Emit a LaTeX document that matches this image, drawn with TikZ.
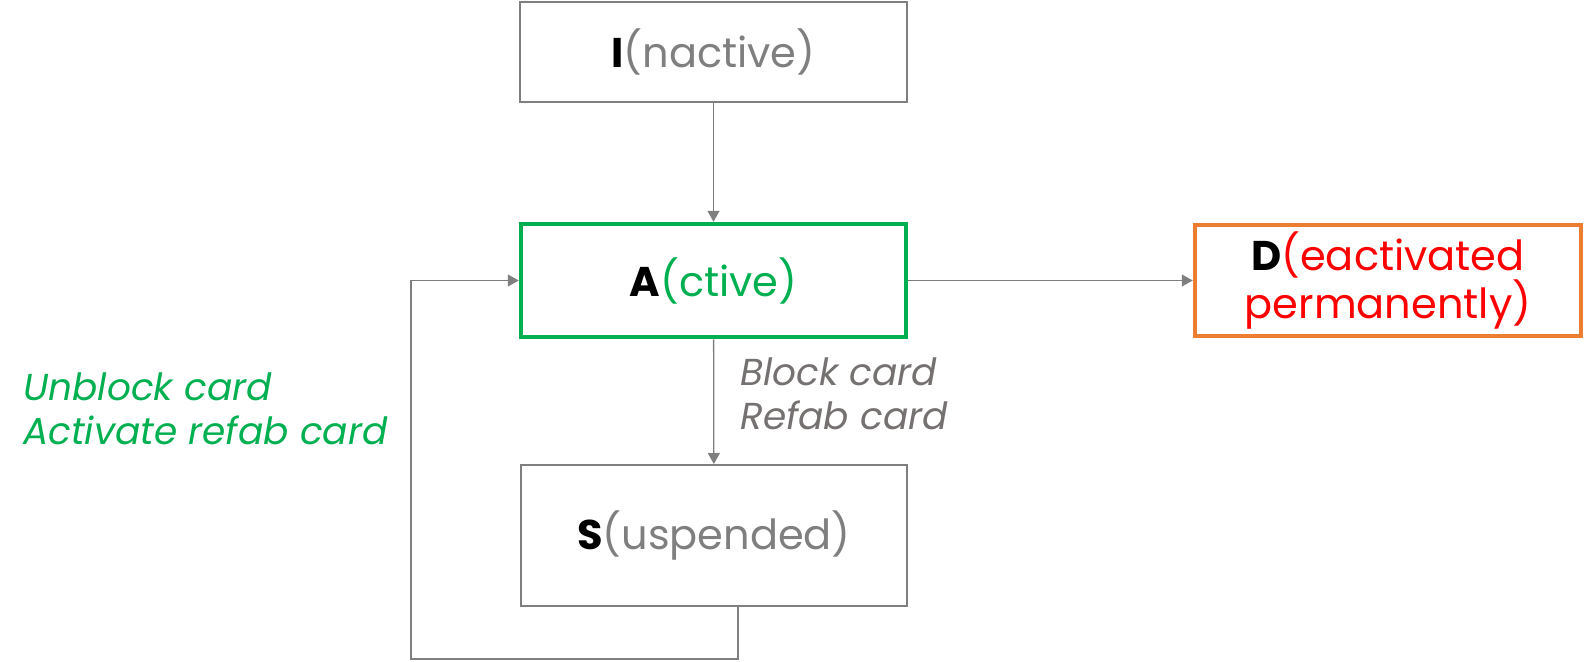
\documentclass[tikz,border=0pt]{standalone}
\usepackage{fontspec}
\setmainfont{Poppins}
\usetikzlibrary{arrows.meta}
\definecolor{boxgray}{HTML}{7F7F7F}
\definecolor{labelgray}{HTML}{767171}
\definecolor{actgreen}{HTML}{00B050}
\definecolor{deacorange}{HTML}{ED7D31}
\tikzset{
  state/.style={draw=boxgray, line width=2pt, rectangle, minimum width=387pt, inner sep=0pt,
    font=\fontsize{41.5}{44}\selectfont, align=center},
  flow/.style={draw=boxgray, line width=1.3pt, -{Triangle[length=11pt,width=12pt]}},
  cmd/.style={font=\fontsize{37.5}{44}\selectfont\itshape, align=left, anchor=west, inner sep=0pt}
}
\begin{document}
\begin{tikzpicture}[x=1pt, y=-1pt]
  \useasboundingbox (0,0) rectangle (1586,661);
  \node[state, minimum height=100pt, text=boxgray] (inactive) at (713.5,52) {\textcolor{black}{\bfseries I}(nactive)};
  \node[state, draw=actgreen, line width=4.5pt, minimum width=385pt, minimum height=113pt, text=actgreen] (active) at (713.5,280.5) {\textcolor{black}{\bfseries A}(ctive)};
  \node[state, draw=deacorange, line width=4.5pt, minimum width=386pt, minimum height=111pt, text=red] (deact) at (1388,280.5) {\textcolor{black}{\bfseries D}(eactivated\\permanently)};
  \node[state, minimum width=386pt, minimum height=141pt, text=boxgray] (susp) at (714,535.5) {\textcolor{black}{\bfseries S}(uspended)};
  % transitions
  \draw[flow] (inactive) -- (active);
  \draw[flow] (active) -- (deact);
  \draw[flow] (active) -- (susp);
  \coordinate (loopcorner) at (411,659);
  \draw[flow] (susp.south -| 738,0) |- (loopcorner) |- (active.west);
  % labels
  \node[cmd, text=labelgray] (blocklbl) at (740,394) {Block card\\Refab card};
  \node[cmd, text=actgreen] (unblocklbl) at (23,409) {Unblock card\\Activate refab card};
\end{tikzpicture}
\end{document}
